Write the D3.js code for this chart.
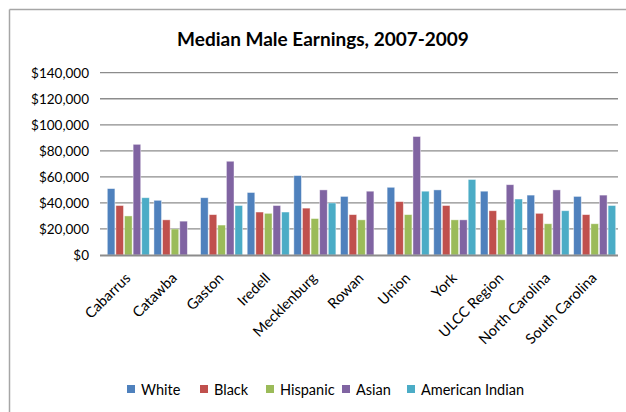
<!DOCTYPE html>
<html>
<head>
<meta charset="utf-8">
<script src="https://cdn.jsdelivr.net/npm/d3@7"></script>
<style>
  html, body { margin: 0; padding: 0; background: #fff; }
  svg { display: block; font-family: Lato, "Liberation Sans", sans-serif; }
</style>
</head>
<body>
<svg id="chart" width="626" height="412"></svg>
<script>
// Areas along the x axis
const categories = ["Cabarrus", "Catawba", "Gaston", "Iredell", "Mecklenburg", "Rowan",
  "Union", "York", "ULCC Region", "North Carolina", "South Carolina"];

// Median male earnings (dollars) by race / ethnicity; null = no estimate
const white          = [51000, 42000, 44000, 48000, 61000, 45000, 52000, 50000, 49000, 46000, 45000];
const black          = [38000, 27000, 31000, 33000, 36000, 31000, 41000, 38000, 34000, 32000, 31000];
const hispanic       = [30000, 20000, 23000, 32000, 28000, 27000, 31000, 27000, 27000, 24000, 24000];
const asian          = [85000, 26000, 72000, 38000, 50000, 49000, 91000, 27000, 54000, 50000, 46000];
const americanIndian = [44000, null, 38000, 33000, 40000, null, 49000, 58000, 43000, 34000, 38000];

const seriesNames = ["White", "Black", "Hispanic", "Asian", "American Indian"];
const seriesColors = ["#4F81BD", "#C0504D", "#9BBB59", "#8064A2", "#4BACC6"];
const seriesValues = [white, black, hispanic, asian, americanIndian];

const yTicks = [0, 20000, 40000, 60000, 80000, 100000, 120000, 140000];

const svg = d3.select("#chart");

// Chart frame: top and left edges only
svg.append("line").attr("x1", 9.5).attr("x2", 626).attr("y1", 9.5).attr("y2", 9.5)
  .attr("stroke", "#a6a6a6").attr("stroke-width", 1.5);
svg.append("line").attr("x1", 9.5).attr("x2", 9.5).attr("y1", 9.5).attr("y2", 412)
  .attr("stroke", "#a6a6a6").attr("stroke-width", 1.5);

// Title
svg.append("text")
  .attr("x", 323).attr("y", 46)
  .attr("text-anchor", "middle")
  .attr("font-size", 19).attr("font-weight", "bold")
  .attr("fill", "#000")
  .text("Median Male Earnings, 2007-2009");

const plot = { left: 105, right: 618, top: 72.7, bottom: 255 };

const x0 = d3.scaleBand().domain(categories)
  .range([plot.left, plot.right]).paddingInner(0.077).paddingOuter(0.0385);
const x1 = d3.scaleBand().domain(seriesNames).range([0, x0.bandwidth()]);
const y = d3.scaleLinear().domain([0, 140000]).range([plot.bottom, plot.top]);

// Gridlines
svg.append("g").selectAll("line").data(yTicks.filter(d => d > 0)).join("line")
  .attr("x1", plot.left - 5).attr("x2", plot.right)
  .attr("y1", d => y(d)).attr("y2", d => y(d))
  .attr("stroke", "#8c8c8c").attr("stroke-width", 1.3);

// Y axis labels
const yAxis = d3.axisLeft(y).tickValues(yTicks).tickSize(0).tickPadding(0)
  .tickFormat(d => "$" + d3.format(",")(d));
const gy = svg.append("g").attr("transform", `translate(${plot.left - 16},0)`).call(yAxis);
gy.select(".domain").remove();
gy.selectAll("text").attr("font-size", 13.5).attr("fill", "#000")
  .attr("font-family", "Lato, 'Liberation Sans', sans-serif");

// Bars
const groups = svg.append("g").selectAll("g").data(categories).join("g")
  .attr("transform", d => `translate(${x0(d)},0)`);
groups.selectAll("rect")
  .data((c, i) => seriesNames.map((s, k) => ({ s, k, v: seriesValues[k][i] })).filter(d => d.v != null))
  .join("rect")
  .attr("x", d => x1(d.s) + 0.5)
  .attr("width", x1.bandwidth() - 1)
  .attr("y", d => y(d.v))
  .attr("height", d => y(0) - y(d.v))
  .attr("fill", d => seriesColors[d.k])
  .attr("stroke", "rgba(255,255,255,0.55)").attr("stroke-width", 0.8);

// X axis line
svg.append("line").attr("x1", plot.left - 5).attr("x2", plot.right)
  .attr("y1", plot.bottom + 0.5).attr("y2", plot.bottom + 0.5)
  .attr("stroke", "#8c8c8c").attr("stroke-width", 2);

// Category labels, rotated
const xAxis = d3.axisBottom(x0).tickSize(0).tickPadding(0);
const gx = svg.append("g").attr("transform", `translate(0,${plot.bottom})`).call(xAxis);
gx.select(".domain").remove();
gx.selectAll("text")
  .attr("font-size", 14.5).attr("fill", "#000")
  .attr("font-family", "Lato, 'Liberation Sans', sans-serif")
  .attr("text-anchor", "end")
  .attr("dy", 0)
  .attr("y", 0)
  .attr("transform", "translate(3,24) rotate(-45)");

// Legend
const legendX = [127, 200, 266, 342, 407];
const legend = svg.append("g").selectAll("g").data(seriesNames).join("g")
  .attr("transform", (d, i) => `translate(${legendX[i]},385)`);
legend.append("rect").attr("width", 8).attr("height", 8).attr("y", 0)
  .attr("fill", (d, i) => seriesColors[i]);
legend.append("text").attr("x", 14).attr("y", 9.5)
  .attr("font-size", 14.5).attr("fill", "#000").text(d => d);
</script>
</body>
</html>
